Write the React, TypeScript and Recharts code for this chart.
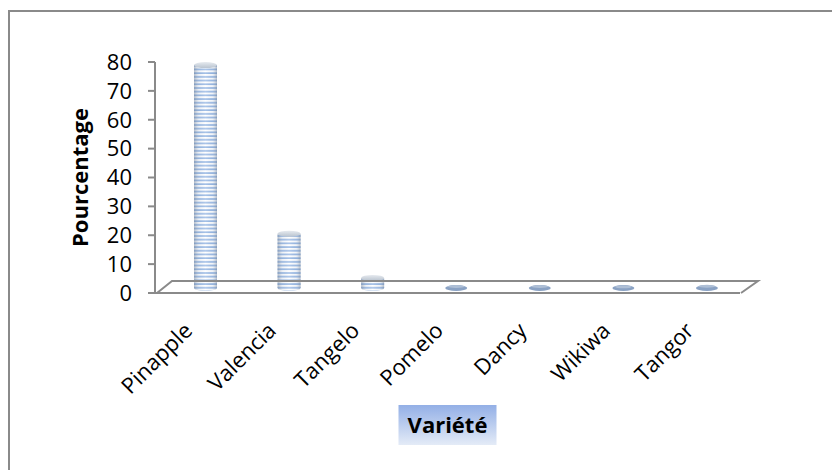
import React from 'react'
import { BarChart, Bar, XAxis, YAxis, Label } from 'recharts'

const categories = ['Pinapple', 'Valencia', 'Tangelo', 'Pomelo', 'Dancy', 'Wikiwa', 'Tangor']
const pourcentage = [77.2, 18.8, 3.5, 0.3, 0.3, 0.2, 0.4]
const yTicks = [0, 10, 20, 30, 40, 50, 60, 70, 80]

const data = categories.map((name, i) => ({ name, value: pourcentage[i] }))

const FONT = '"Open Sans", "Noto Sans", sans-serif'
const AXIS_GREY = '#8a8a8a'
// half of the 3D floor depth: bars stand in the middle of the floor
const DX = 9
const DY = -5

function Cylinder(props: any) {
  const { x, y, width, height } = props
  const rx = width / 2
  const ry = 3
  const cx = x + rx + DX
  const top = y + DY
  const bottom = y + height + DY
  const left = cx - rx
  const right = cx + rx
  if (height < 2) {
    return (
      <g>
        <ellipse cx={cx} cy={bottom} rx={rx - 0.5} ry={3} fill="#8aa2c4" />
        <ellipse cx={cx} cy={top - 0.6} rx={rx - 3} ry={1.5} fill="#aebfd6" />
      </g>
    )
  }
  const d = `M${left},${top} L${left},${bottom} A${rx},${ry} 0 0 0 ${right},${bottom} L${right},${top} Z`
  return (
    <g>
      <path d={d} fill="#ffffff" />
      <path d={d} fill="url(#stripes)" />
      <path d={d} fill="url(#cylShade)" />
      <ellipse cx={cx} cy={top} rx={rx} ry={ry} fill="url(#capShade)" />
    </g>
  )
}

function XTick(props: any) {
  const { x, y, payload } = props
  const tx = x - 3
  const ty = y + 37
  return (
    <text
      x={tx}
      y={ty}
      transform={`rotate(-45 ${tx} ${ty})`}
      textAnchor="end"
      fill="#000"
      fontSize={22}
      fontFamily={FONT}
    >
      {payload.value}
    </text>
  )
}

// floor of the 3D plot and the boxed axis title
function FloorAndTitle(props: any) {
  const vb = props.viewBox || {}
  const x = vb.x || 0
  const y = vb.y || 0
  const width = vb.width || 0
  const depthX = 17
  const depthY = 12
  const cx = x + width / 2
  const boxW = 98
  const boxH = 40
  const boxTop = y + 112
  return (
    <g>
      <polyline
        points={`${x + 2},${y} ${x + depthX},${y - depthY} ${x + width + depthX + 1},${y - depthY} ${x + width + 1},${y}`}
        fill="none"
        stroke={AXIS_GREY}
        strokeWidth={2}
      />
      <rect x={cx - boxW / 2} y={boxTop} width={boxW} height={boxH} fill="url(#titleFill)" />
      <text
        x={cx}
        y={boxTop + boxH / 2}
        dy="0.35em"
        textAnchor="middle"
        fontSize={22}
        fontWeight="bold"
        fontFamily={FONT}
        fill="#000"
      >
        Variété
      </text>
    </g>
  )
}

export default function App() {
  return (
    <div
      style={{
        position: 'absolute',
        left: 0,
        top: 0,
        width: 832,
        height: 470,
        background: '#fff',
        overflow: 'hidden',
      }}
    >
      <div
        style={{
          position: 'absolute',
          left: 8,
          top: 10,
          width: 900,
          height: 520,
          border: `2px solid ${AXIS_GREY}`,
        }}
      />
      <div style={{ position: 'absolute', left: 0, top: 0 }}>
        <BarChart
          width={832}
          height={470}
          data={data}
          margin={{ top: 62, right: 92, bottom: 0, left: 0 }}
          barSize={23}
        >
          <defs>
            <pattern id="stripes" patternUnits="userSpaceOnUse" width="8" height="3.7">
              <rect x="0" y="2.2" width="8" height="1.3" fill="#5a8dd3" />
            </pattern>
            <linearGradient id="cylShade" x1="0" y1="0" x2="1" y2="0">
              <stop offset="0%" stopColor="#7f8ea3" stopOpacity={0.6} />
              <stop offset="22%" stopColor="#c9d3e0" stopOpacity={0.3} />
              <stop offset="50%" stopColor="#ffffff" stopOpacity={0.3} />
              <stop offset="80%" stopColor="#c9d3e0" stopOpacity={0.25} />
              <stop offset="100%" stopColor="#7f8ea3" stopOpacity={0.6} />
            </linearGradient>
            <linearGradient id="capShade" x1="0" y1="0" x2="0" y2="1">
              <stop offset="0%" stopColor="#e6eaef" />
              <stop offset="100%" stopColor="#b9c3cf" />
            </linearGradient>
            <linearGradient id="titleFill" x1="0" y1="0" x2="0" y2="1">
              <stop offset="0%" stopColor="#93afe6" />
              <stop offset="100%" stopColor="#e4ebf7" />
            </linearGradient>
          </defs>
          <YAxis
            width={155}
            domain={[0, 80]}
            ticks={yTicks}
            interval={0}
            axisLine={{ stroke: AXIS_GREY, strokeWidth: 2 }}
            tickLine={{ stroke: AXIS_GREY, strokeWidth: 2 }}
            tickSize={7}
            tickMargin={16}
            tick={{ fill: '#000', fontSize: 22, fontFamily: FONT }}
          >
            <Label
              value="Pourcentage"
              angle={-90}
              position="insideLeft"
              offset={80}
              style={{ fontSize: 22, fontWeight: 'bold', fontFamily: FONT, fill: '#000', textAnchor: 'middle' }}
            />
          </YAxis>
          <XAxis
            dataKey="name"
            height={177}
            interval={0}
            axisLine={{ stroke: AXIS_GREY, strokeWidth: 2 }}
            tickLine={false}
            tickSize={0}
            tick={<XTick />}
          >
            <Label content={<FloorAndTitle />} />
          </XAxis>
          <Bar dataKey="value" shape={<Cylinder />} isAnimationActive={false} />
        </BarChart>
      </div>
    </div>
  )
}
